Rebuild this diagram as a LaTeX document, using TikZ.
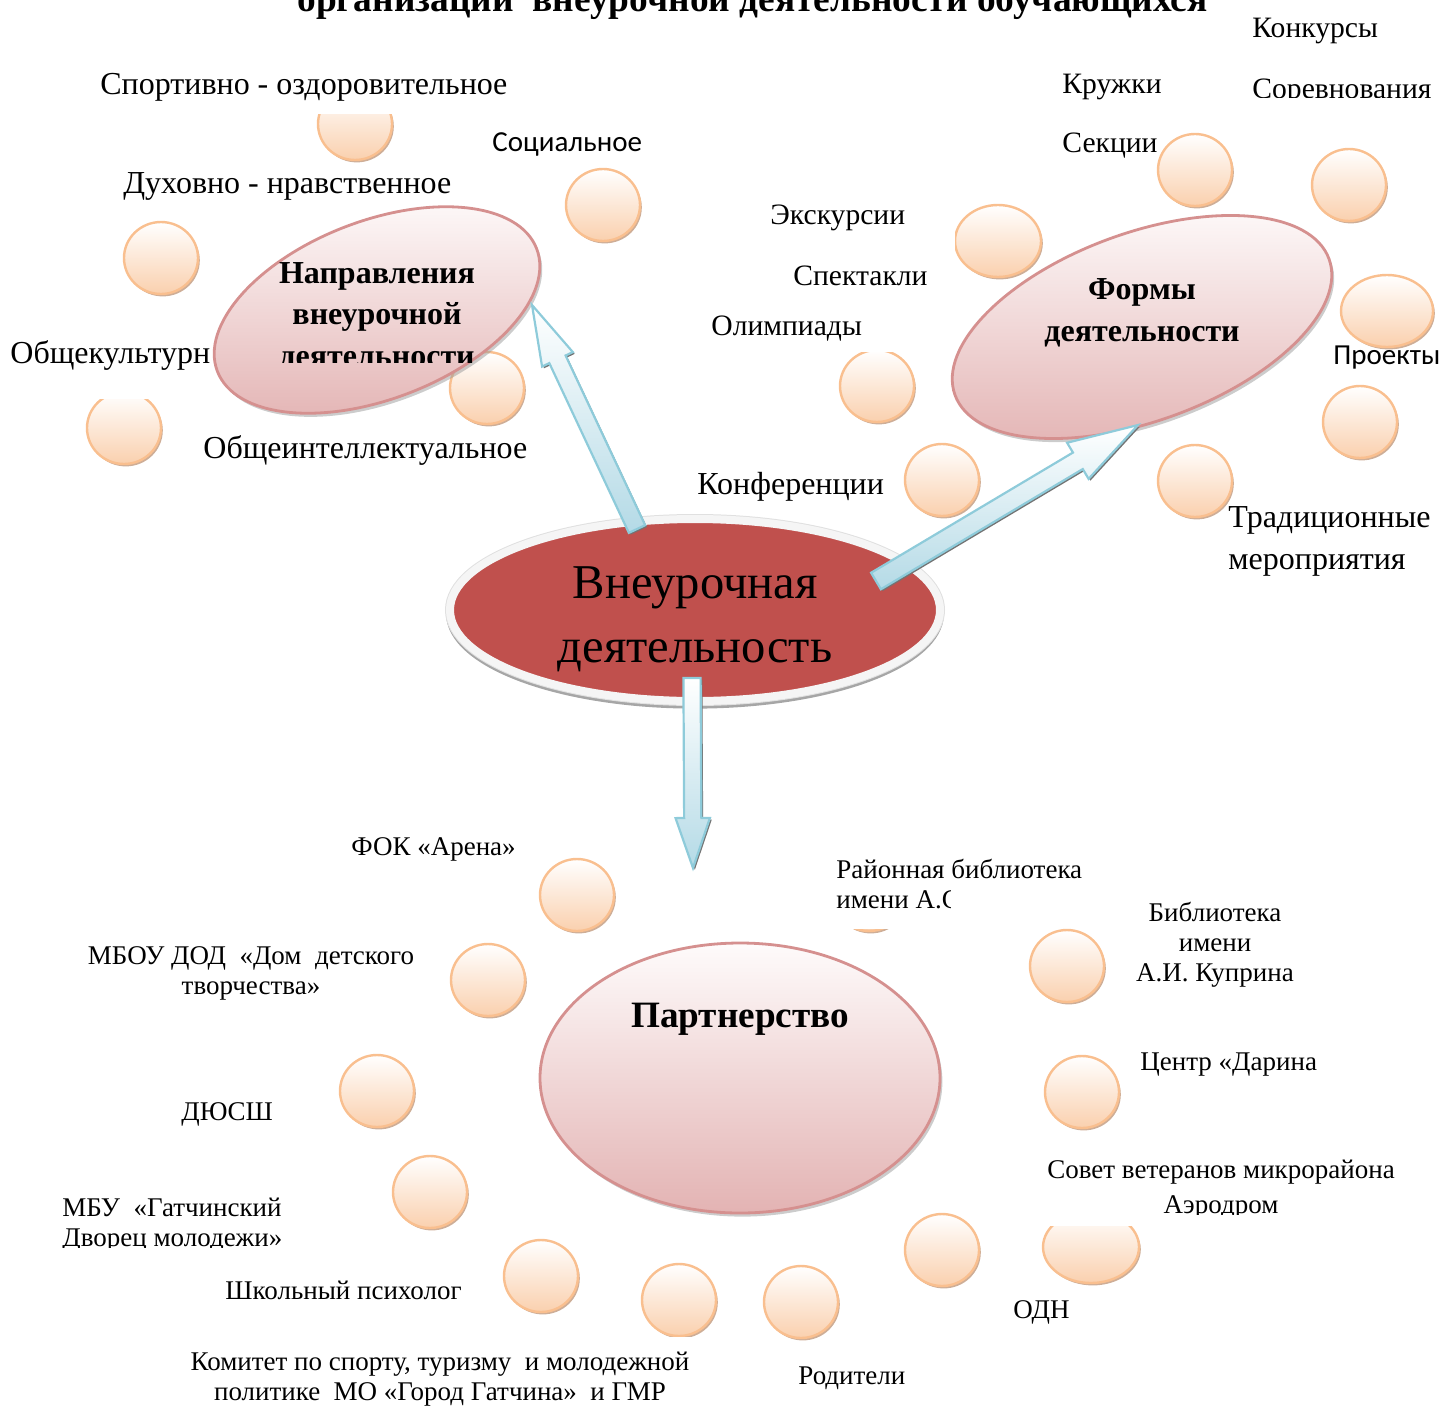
\documentclass[tikz,border=0pt]{standalone}
\usepackage{fontspec}
\setmainfont{Liberation Serif}
\newfontfamily\calfont{Carlito}
\usetikzlibrary{shapes.geometric,shadows,calc}
\definecolor{bubbleline}{HTML}{F9BF8F}
\definecolor{bubblebot}{HTML}{FAD0AE}
\definecolor{bubbleshadow}{HTML}{C9A58C}
\definecolor{pinkline}{HTML}{D5908F}
\definecolor{pinktop}{HTML}{FEFBFB}
\definecolor{pinkbot}{HTML}{E3B3B3}
\definecolor{mainred}{HTML}{C0504D}
\definecolor{arrowline}{HTML}{8ECBDA}
\definecolor{arrowbot}{HTML}{B4DAE6}
\newcommand\lns[2]{\begin{tabular}[t]{@{}#1@{}}#2\end{tabular}}
\newcommand\blockarrow[6]{%
  \coordinate (ba-h) at ($(#2)!#5!(#1)$);
  \path[#6] ($(#1)!#3!90:(#2)$) -- ($(ba-h)!#3!90:(#2)$) -- ($(ba-h)!#4!90:(#2)$)
    -- (#2) -- ($(ba-h)!#4!-90:(#2)$) -- ($(ba-h)!#3!-90:(#2)$) -- ($(#1)!#3!-90:(#2)$) -- cycle;
}
\begin{document}
\begin{tikzpicture}[x=0.5pt,y=-0.5pt,
  lbl/.style={font=\fontsize{16}{18}\selectfont, inner sep=0pt, anchor=base west},
  lblr/.style={font=\fontsize{14.8}{18}\selectfont, inner sep=0pt, anchor=base west},
  sml/.style={font=\fontsize{13.5}{15}\selectfont, inner sep=0pt, anchor=base west},
  cal/.style={font=\calfont\fontsize{14.5}{17}\selectfont, inner sep=0pt, anchor=base west},
  inner/.style={font=\bfseries\fontsize{16}{20.75}\selectfont, inner sep=0pt, anchor=base},
  bubble/.style={ellipse, minimum width=37pt, minimum height=36pt, inner sep=0pt,
    draw=bubbleline, line width=1.2pt, top color=white, bottom color=bubblebot,
    drop shadow={shadow xshift=0.9pt, shadow yshift=-1.2pt, fill=bubbleshadow, opacity=0.9}},
  pinkell/.style={ellipse, inner sep=0pt, draw=pinkline, line width=1.4pt,
    top color=pinktop, bottom color=pinkbot,
    drop shadow={shadow xshift=1.2pt, shadow yshift=-1.8pt, fill=black!40, opacity=0.5}},
  barrow/.style={draw=arrowline, line width=1.1pt, top color=white, bottom color=arrowbot,
    preaction={fill=black!55, transform canvas={xshift=0.9pt, yshift=-0.9pt}}},
]
\useasboundingbox (0,0) rectangle (1443,1407);

% title (cut off by the page top)
\node[font=\bfseries\fontsize{18.7}{22}\selectfont, inner sep=0pt, anchor=base west] (title) at (297,12)
  {организации~ внеурочной деятельности обучающихся};

% ---------- labels: directions ----------
\node[lbl] (l-sport) at (100,95) {Спортивно - оздоровительное};
\node[cal] (l-soc) at (492,152) {Социальное};
\node[lbl] (l-duh) at (123,193) {Духовно - нравственное};
\node[lbl] (l-obk) at (10,363) {Общекультурн};
\node[lbl] (l-obi) at (203,458) {Общеинтеллектуальное};

% ---------- labels: forms ----------
\node[lblr] (l-konk) at (1252,38) {Конкурсы};
\node[lblr] (l-kruz) at (1062,94) {Кружки};
\begin{scope}
  \clip (1200,40) rectangle (1443,98);
  \node[lblr] (l-sor) at (1252,99) {Соревнования};
\end{scope}
\node[lblr] (l-sek) at (1062,153) {Секции};
\node[lblr] (l-eks) at (770,224) {Экскурсии};
\node[lblr] (l-spe) at (793,285) {Спектакли};
\node[lblr] (l-oli) at (711,335) {Олимпиады};
\node[cal] (l-pro) at (1333,364) {Проекты};
\node[lbl] (l-konf) at (697,494) {Конференции};
\node[lbl, font=\fontsize{16}{21}\selectfont] (l-trad) at (1228,527) {\lns{l}{Традиционные\\мероприятия}};

% ---------- labels: partners ----------
\node[sml] (l-fok) at (351,855) {ФОК «Арена»};
\node[sml, anchor=base] (l-mbou) at (251,964) {\lns{c}{МБОУ ДОД~ «Дом~ детского\\творчества»}};
\node[sml] (l-dyu) at (181,1120) {ДЮСШ};
\begin{scope}
  \clip (0,1180) rectangle (330,1247);
  \node[sml] (l-mbu) at (62,1216) {\lns{l}{МБУ~ «Гатчинский\\Дворец молодежи»}};
\end{scope}
\node[sml] (l-psy) at (225,1299) {Школьный психолог};
\node[sml, anchor=base] (l-kom) at (440,1370) {\lns{c}{Комитет по спорту, туризму~ и молодежной\\политике~ МО «Город Гатчина»~ и ГМР}};
\node[sml] (l-rod) at (798,1384) {Родители};
\node[sml] (l-odn) at (1013,1318) {ОДН};
\begin{scope}
  \clip (1000,1140) rectangle (1443,1214);
  \node[sml, anchor=base, font=\fontsize{13.5}{17.5}\selectfont] (l-sov) at (1221,1178) {\lns{c}{Совет ветеранов микрорайона\\Аэродром}};
\end{scope}
\node[sml] (l-dar) at (1140,1070) {Центр «Дарина};
\node[sml, anchor=base] (l-kup) at (1215,921) {\lns{c}{Библиотека\\имени\\А.И. Куприна}};
\begin{scope}
  \clip (800,840) rectangle (1100,885) (800,885) rectangle (950,930);
  \node[sml] (l-ray) at (836,878) {\lns{l}{Районная библиотека\\имени А.С}};
\end{scope}

% ---------- bubbles ----------
\begin{scope}\clip (280,115) rectangle (440,200);
  \node[bubble] (b1) at (355,124) {};\end{scope}
\node[bubble] (b2) at (603,205) {};
\node[bubble] (b3) at (161,258) {};
\node[bubble] (b4) at (487,388) {};
\begin{scope}\clip (60,399) rectangle (200,480);
  \node[bubble] (b5) at (124,428) {};\end{scope}
\node[bubble] (b6) at (1195,170) {};
\node[bubble] (b7) at (1349,185) {};
\begin{scope}\clip (955,190) rectangle (1070,300);
  \node[bubble, minimum width=43pt] (b8) at (998,241) {};\end{scope}
\node[bubble, minimum width=46pt] (b9) at (1387,311) {};
\begin{scope}\clip (820,352) rectangle (940,440);
  \node[bubble] (b10) at (877,386) {};\end{scope}
\node[bubble] (b11) at (1360,422) {};
\node[bubble] (b12) at (942,480) {};
\node[bubble] (b13) at (1195,481) {};
\node[bubble] (b14) at (577,895) {};
\node[bubble] (b15) at (488,980) {};
\node[bubble] (b16) at (377,1091) {};
\node[bubble] (b17) at (430,1192) {};
\node[bubble] (b18) at (541,1276) {};
\begin{scope}\clip (620,1240) rectangle (740,1336);
  \node[bubble] (b19) at (679,1300) {};\end{scope}
\node[bubble] (b20) at (801,1302) {};
\node[bubble] (b21) at (942,1250) {};
\begin{scope}\clip (1020,1226) rectangle (1160,1300);
  \node[bubble, minimum width=48pt] (b22) at (1091,1247) {};\end{scope}
\node[bubble] (b23) at (1067,966) {};
\node[bubble] (b24) at (1082,1092) {};
\begin{scope}\clip (830,929) rectangle (950,950);
  \node[bubble] (b25) at (869,895) {};\end{scope}

% ---------- pink ellipses ----------
\node[pinkell, minimum width=171pt, minimum height=89pt, rotate=21] (napr) at (377,310) {};
\node[pinkell, minimum width=199pt, minimum height=94pt, rotate=20] (form) at (1142,327) {};
\node[pinkell, minimum width=200pt, minimum height=135pt] (part) at (740,1078) {};

% ---------- central ellipse ----------
\node[ellipse, minimum width=245pt, minimum height=91pt, inner sep=0pt, fill=mainred,
  preaction={draw=black!35, line width=4pt, transform canvas={yshift=-1.8pt}},
  preaction={draw=black!12, line width=5pt},
  draw=white!96!black, line width=4pt] (main) at (695,610) {};

% ---------- arrows ----------
\coordinate (a1s) at (637,529);
\coordinate (a1e) at (532,305);
\coordinate (a2s) at (876,581);
\coordinate (a2e) at (1138,425);
\coordinate (a3s) at (692,678);
\coordinate (a3e) at (693,868);
\blockarrow{a1s}{a1e}{4.5pt}{8.5pt}{30pt}{barrow}
\blockarrow{a2s}{a2e}{4.8pt}{10.5pt}{35pt}{barrow}
\blockarrow{a3s}{a3e}{4.3pt}{8.6pt}{25pt}{barrow}

% ---------- ellipse texts ----------
\begin{scope}
  \clip (200,240) rectangle (560,362);
  \node[inner] (t-napr) at (377,283) {\lns{c}{Направления\\внеурочной\\деятельности}};
\end{scope}
\node[inner, font=\bfseries\fontsize{16}{21}\selectfont] (t-form) at (1142,299) {\lns{c}{Формы\\деятельности}};
\node[inner, font=\bfseries\fontsize{18.6}{20}\selectfont] (t-part) at (740,1027) {Партнерство};
\node[inner, font=\fontsize{24.3}{32}\selectfont\mdseries] (t-main) at (695,598) {\lns{c}{Внеурочная\\деятельность}};
\end{tikzpicture}
\end{document}
